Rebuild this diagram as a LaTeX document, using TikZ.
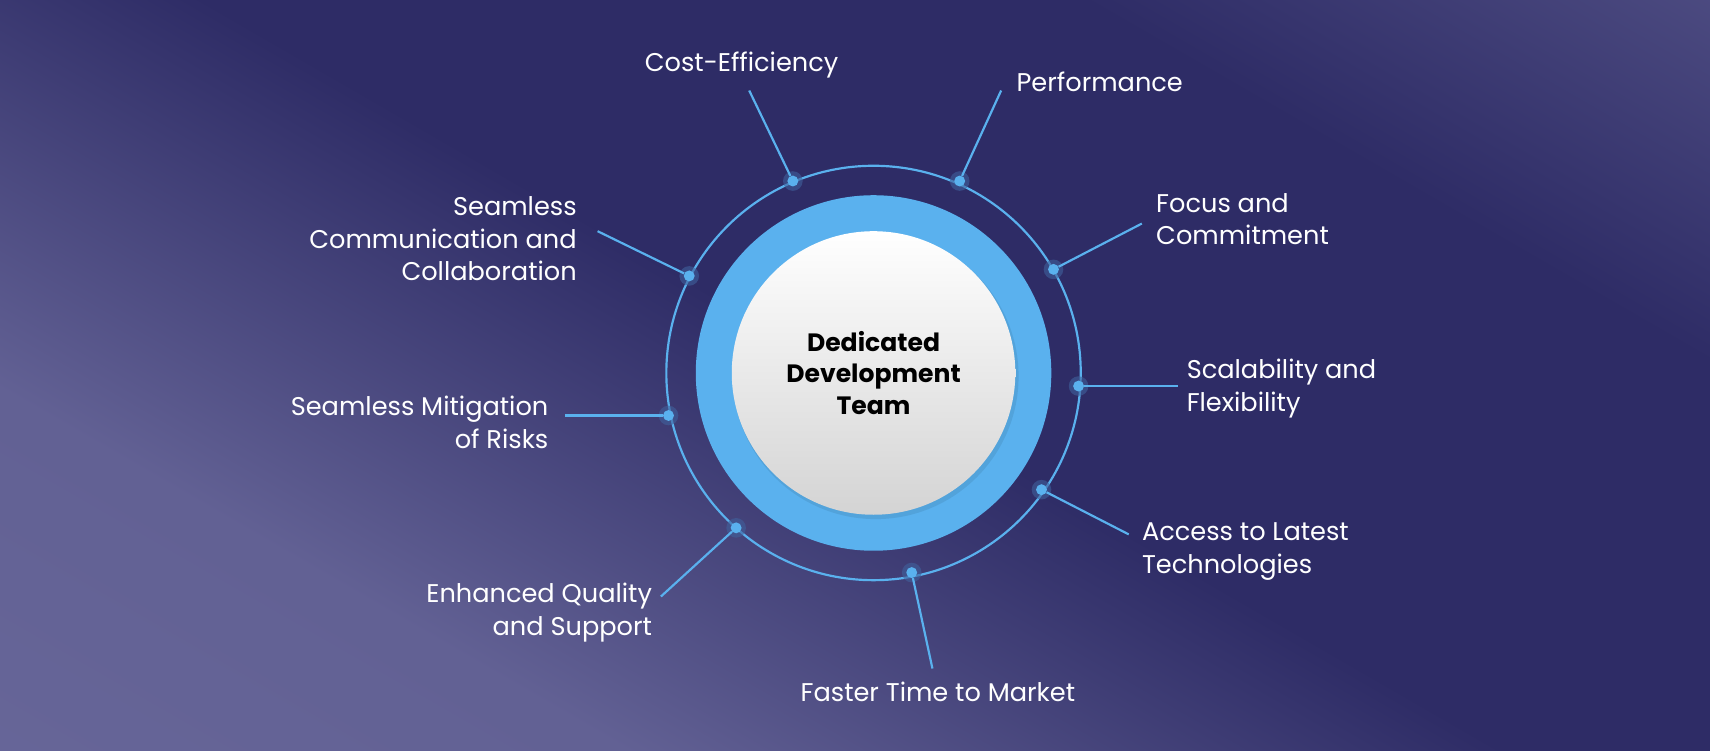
\documentclass[tikz,border=0pt]{standalone}
\usepackage{fontspec}
\setmainfont{Poppins}
\definecolor{bgdark}{HTML}{2E2C66}
\definecolor{bglight}{HTML}{6B6A9C}
\definecolor{ringblue}{HTML}{5AB1EE}
\definecolor{linecol}{HTML}{5AB1EE}
\pgfdeclarehorizontalshading{bgshade}{100bp}{color(0bp)=(bglight); color(30bp)=(bglight!85!bgdark); color(50bp)=(bgdark); color(70bp)=(bgdark); color(100bp)=(bglight)}
\tikzset{
  lab/.style={text=white, font=\fontsize{23.5}{30}\selectfont, align=left, inner sep=0pt},
  labr/.style={lab, align=right},
  labc/.style={lab, align=center},
  conn/.style={draw=linecol, line width=2pt},
  dot/.style={circle, fill=ringblue, inner sep=0pt, minimum size=10pt},
}
\begin{document}
\begin{tikzpicture}[x=1pt,y=-1pt]
\useasboundingbox (0,0) rectangle (1568,688);
\shade[shading=bgshade, shading angle=60] (0,0) rectangle (1568,688);
\coordinate (c) at (801,342);
% rings
\draw[linecol, line width=2pt] (c) circle (190);
\fill[ringblue] (c) circle (163);
\fill[black, opacity=0.08] (803,345) circle (131);
\node[circle, minimum size=260pt, inner sep=0pt, top color=white, bottom color=black!17, font=\bfseries\fontsize{23}{29}\selectfont, align=center, text=black] (center) at (c) {Dedicated\\Development\\Team};
% dots and connectors
\foreach \n/\dx/\dy/\ex/\ey in {a/727/166/687/83, b/880/166/918/83, cc/966/247/1047/205, d/989/354/1080/354, e/955/449/1035/490, f/836/525/855/613, g/675/484/606/547, h/613/381/518/381, i/632/253/548/212}{
  \coordinate (e\n) at (\ex,\ey);
  \node[dot, fill=ringblue!40!bgdark, minimum size=18pt, opacity=0.6] at (\dx,\dy) {};
  \node[dot] (d\n) at (\dx,\dy) {};
  \draw[conn] (d\n) -- (e\n);
}
\node[labc] (t1) at (680,60) {Cost-Efficiency};
\node[lab, anchor=west] (t2) at (932,75) {Performance};
\node[lab, anchor=west] (t3) at (1060,201) {Focus and\\Commitment};
\node[lab, anchor=west] (t4) at (1088,356) {Scalability and\\Flexibility};
\node[lab, anchor=west] (t5) at (1047,506) {Access to Latest\\Technologies};
\node[labc] (t6) at (860,634) {Faster Time to Market};
\node[labr, anchor=east] (t7) at (598,562) {Enhanced Quality\\and Support};
\node[labr, anchor=east] (t8) at (503,387) {Seamless Mitigation\\of Risks};
\node[labr, anchor=east] (t9) at (529,219) {Seamless\\Communication and\\Collaboration};
\end{tikzpicture}
\end{document}
